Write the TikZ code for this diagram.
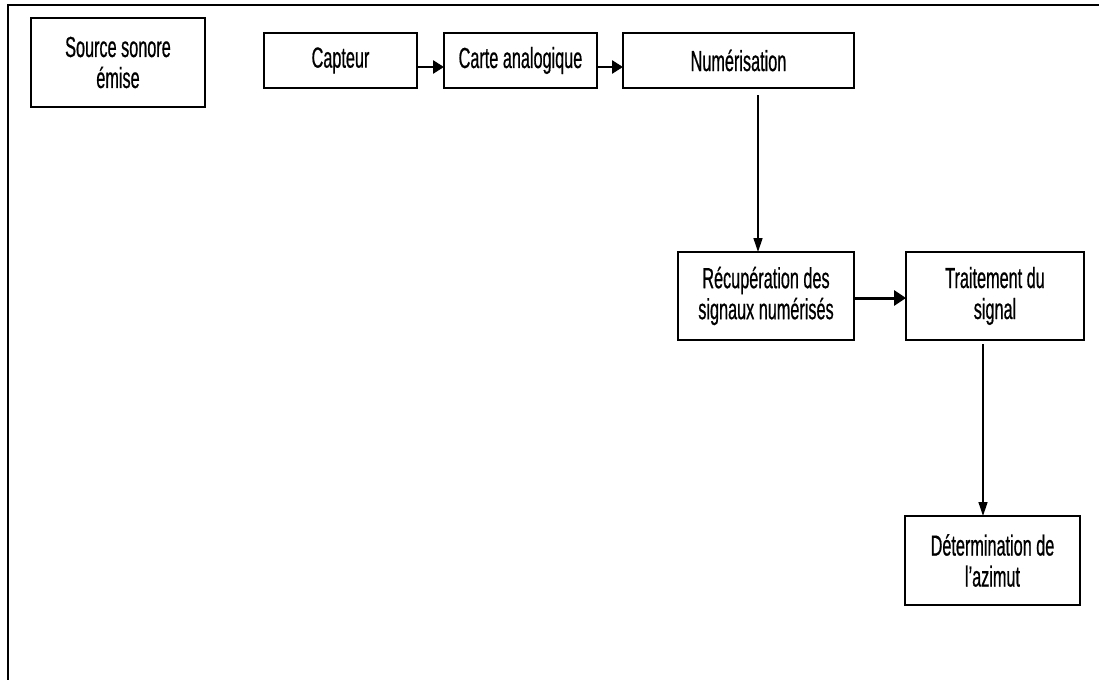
\documentclass[tikz,border=0pt]{standalone}
\usepackage{fontspec}
\setmainfont[FakeStretch=0.56,FakeBold=0.6]{Liberation Sans}
\usetikzlibrary{arrows.meta}

\begin{document}
\begin{tikzpicture}[x=0.5pt,y=-0.5pt,
  box/.style={draw, line width=0.9pt, align=center, inner sep=0pt, outer sep=0pt,
              font=\fontsize{14.5}{15.5}\selectfont},
  harrow/.style={line width=1.3pt, -{Triangle[length=5.5pt,width=6.5pt]}},
  harrowbig/.style={line width=1.5pt, -{Triangle[length=6pt,width=7.5pt]}},
  varrow/.style={line width=0.65pt, -{Triangle[length=7pt,width=4.5pt]}},
]
\useasboundingbox (0,0) rectangle (1099,680);
\clip (0,0) rectangle (1099,680);

% open frame around the chart
\draw[line width=1pt] (8,700) -- (8,5) -- (1120,5);

% blocks
\node[box, minimum width=87pt,   minimum height=44.5pt] (src)   at (118,62.5)   {Source sonore\\émise};
\node[box, minimum width=76.5pt, minimum height=27.5pt] (cap)   at (340.5,60.5) {Capteur};
\node[box, minimum width=76.5pt, minimum height=27.5pt] (carte) at (520.5,60.5) {Carte analogique};
\node[box, minimum width=115.5pt,minimum height=27.5pt] (num)   at (738.5,60.5) {Numérisation};
\node[box, minimum width=88pt,   minimum height=44pt]   (recup) at (766,296)    {Récupération des\\signaux numérisés};
\node[box, minimum width=89pt,   minimum height=44pt]   (trait) at (995,296)    {Traitement du\\signal};
\node[box, minimum width=87.5pt, minimum height=44.5pt] (det)   at (992.5,560.5){Détermination de\\l’azimut};

% connectors
\draw[harrow] ([yshift=-3.25pt]cap.east) -- ([yshift=-3.25pt]carte.west);
\draw[harrow] ([yshift=-3.25pt]carte.east) -- ([yshift=-3.25pt]num.west);
\draw[varrow] ([xshift=9.75pt,yshift=-3.5pt]num.south) -- ([xshift=-4pt]recup.north);
\draw[harrowbig] ([yshift=-1pt]recup.east) -- ([yshift=-1pt]trait.west);
\draw[varrow] ([xshift=-6pt,yshift=-2pt]trait.south) -- ([xshift=-4.75pt]det.north);
\end{tikzpicture}
\end{document}
